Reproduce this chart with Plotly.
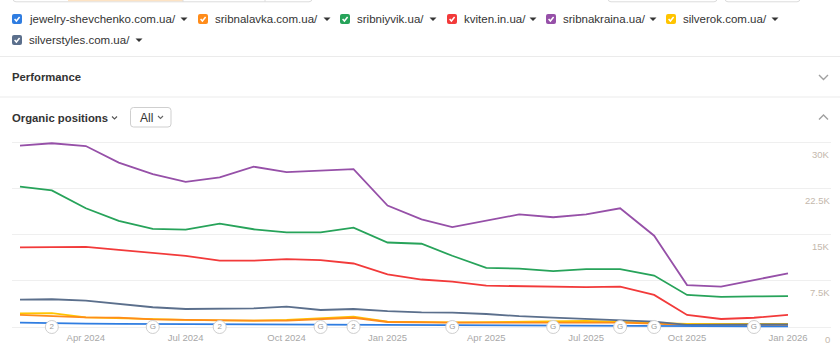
import pandas as pd
import plotly.graph_objects as go

# ---------------- data ----------------
months = pd.date_range("2024-02-01", "2026-01-01", freq="MS")

purple_sribnakraina = [29400, 29800, 29350, 26650, 24800, 23550, 24250, 26000, 25100, 25350, 25600, 19700,
                       17450, 16200, 17250, 18250, 17800, 18250, 19250, 14800, 6800, 6550, 7600, 8700]
green_sribniyvik = [22750, 22150, 19250, 17200, 15900, 15800, 16750, 15850, 15350, 15350, 16100, 13700,
                    13500, 11550, 9600, 9450, 9050, 9400, 9400, 8350, 5200, 4900, 4950, 5000]
red_kviten = [12900, 13000, 13000, 12500, 12050, 11550, 10750, 10750, 11000, 10850, 10300, 8550,
              7700, 7350, 6700, 6600, 6500, 6450, 6550, 5200, 1950, 1300, 1500, 1950]
slate_silverstyles = [4450, 4500, 4270, 3730, 3200, 2920, 3030, 3030, 3300, 2760, 2920, 2570,
                      2360, 2330, 2110, 1750, 1510, 1300, 1140, 860, 350, 400, 400, 420]
yellow_silverok = [2220, 2240, 1570, 1400, 1240, 1140, 1060, 1030, 1140, 1410, 1680, 860,
                   760, 760, 800, 820, 830, 970, 810, 590, 490, 490, 490, 490]
orange_sribnalavka = [1950, 1730, 1570, 1510, 1240, 1140, 1030, 1030, 1030, 1240, 1500, 810,
                      700, 700, 700, 700, 700, 700, 700, 560, 320, 300, 300, 300]
blue_jewelry = [700, 590, 540, 510, 490, 470, 450, 440, 440, 440, 440, 430,
                420, 400, 380, 350, 320, 210, 200, 200, 170, 150, 120, 100]

legend_names = ["jewelry-shevchenko.com.ua/", "sribnalavka.com.ua/", "sribniyvik.ua/", "kviten.in.ua/",
                "sribnakraina.ua/", "silverok.com.ua/", "silverstyles.com.ua/"]
legend_colors = ["#2f7de1", "#ff8c1a", "#27a35a", "#f23a3a", "#9650a8", "#ffc400", "#5b6f8c"]

y_tickvals = [0, 7500, 15000, 22500, 30000]
y_ticktext = ["0", "7.5K", "15K", "22.5K", "30K"]

x_tickvals = ["2024-04-01", "2024-07-01", "2024-10-01", "2025-01-01",
              "2025-04-01", "2025-07-01", "2025-10-01", "2026-01-01"]
x_ticktext = ["Apr 2024", "Jul 2024", "Oct 2024", "Jan 2025",
              "Apr 2025", "Jul 2025", "Oct 2025", "Jan 2026"]

event_dates = ["2024-03-01", "2024-06-01", "2024-08-01", "2024-11-01", "2024-12-01",
               "2025-03-01", "2025-06-01", "2025-08-01", "2025-09-01", "2025-12-01"]
event_labels = ["2", "G", "2", "G", "2", "G", "G", "G", "G", "G"]

# ---------------- helpers ----------------
W, H = 840, 354


def px(x):
    return x / W


def py(y):
    return 1 - y / H


def rrect_path(x0, y0, x1, y1, r):
    X0, X1 = px(x0), px(x1)
    Y0, Y1 = py(y0), py(y1)
    rx, ry = r / W, r / H
    return (f"M{X0+rx},{Y0} L{X1-rx},{Y0} Q{X1},{Y0} {X1},{Y0-ry} L{X1},{Y1+ry} "
            f"Q{X1},{Y1} {X1-rx},{Y1} L{X0+rx},{Y1} Q{X0},{Y1} {X0},{Y1+ry} "
            f"L{X0},{Y0-ry} Q{X0},{Y0} {X0+rx},{Y0} Z")


def poly_path(pts, close=False):
    s = "M" + " L".join(f"{px(a)},{py(b)}" for a, b in pts)
    return s + (" Z" if close else "")


def pshape(path, **kw):
    d = dict(type="path", xref="paper", yref="paper", path=path)
    d.update(kw)
    return d


fig = go.Figure()

series = [
    (yellow_silverok, legend_colors[5]),
    (orange_sribnalavka, legend_colors[1]),
    (slate_silverstyles, legend_colors[6]),
    (red_kviten, legend_colors[3]),
    (green_sribniyvik, legend_colors[2]),
    (purple_sribnakraina, legend_colors[4]),
    (blue_jewelry, legend_colors[0]),
]
for vals, col in series:
    fig.add_trace(go.Scatter(x=months, y=vals, mode="lines",
                             line=dict(color=col, width=1.8), hoverinfo="skip"))

fig.add_trace(go.Scatter(
    x=pd.to_datetime(event_dates), y=[0] * len(event_dates), mode="markers+text",
    text=event_labels, textposition="middle center",
    textfont=dict(size=8, color="#9a9a9a", family="Liberation Sans, Arial, sans-serif"),
    marker=dict(size=13, color="white", line=dict(color="#cfcfcf", width=1)),
    cliponaxis=False, hoverinfo="skip"))

# x range so that Feb 2024 sits at px 20 and Jan 2026 at px 788, plot area 12..831
t0, t1 = pd.Timestamp("2024-02-01"), pd.Timestamp("2026-01-01")
ppd = (788 - 20) / (t1 - t0).days
x_start = t0 - pd.Timedelta(days=(20 - 12) / ppd)
x_end = t1 + pd.Timedelta(days=(831 - 788) / ppd)

# y: 0 at px 327, 30K at px 142, plot area 136..330
upp = 30000 / (327 - 142)
y_lo = -(330 - 327) * upp
y_hi = (327 - 136) * upp

shapes = []
annotations = []

# top cut-off buttons
shapes.append(pshape(rrect_path(13, -10, 312, 1.8, 3), line=dict(color="#dcdcdc", width=1), fillcolor="white"))
shapes.append(dict(type="rect", xref="paper", yref="paper", x0=px(68), x1=px(183), y0=py(1.3), y1=py(-2),
                   fillcolor="#fde3c4", line=dict(width=0)))
for xv in [183, 265]:
    shapes.append(dict(type="line", xref="paper", yref="paper", x0=px(xv), x1=px(xv), y0=py(1.8), y1=py(-2),
                       line=dict(color="#dcdcdc", width=1)))
for a, b in [(608, 717), (725, 800)]:
    shapes.append(pshape(rrect_path(a, -10, b, 1.8, 3), line=dict(color="#dcdcdc", width=1), fillcolor="white"))

# legend
box_x = [12, 198, 340, 447, 546, 666, 12]
row_y = [19, 19, 19, 19, 19, 19, 40]
arrow_x = [184, 327, 433, 533, 653, 775, 139]
for name, col, bx, ry, ax in zip(legend_names, legend_colors, box_x, row_y, arrow_x):
    shapes.append(pshape(rrect_path(bx, ry - 5, bx + 10, ry + 5, 2), fillcolor=col, line=dict(width=0)))
    shapes.append(pshape(poly_path([(bx + 2.6, ry), (bx + 4.4, ry + 2), (bx + 7.6, ry - 2)]),
                         line=dict(color="white", width=1.5)))
    annotations.append(dict(text=name, x=px(bx + 14.5), y=py(ry - 0.5), xref="paper", yref="paper",
                            xanchor="left", yanchor="middle", showarrow=False,
                            font=dict(size=11.5, color="#333333")))
    shapes.append(pshape(poly_path([(ax - 3.5, ry - 1.5), (ax + 3.5, ry - 1.5), (ax, ry + 2)], True),
                         fillcolor="#333333", line=dict(width=0)))

# separators
for yv in [56.5, 97]:
    shapes.append(dict(type="line", xref="paper", yref="paper", x0=0, x1=1, y0=py(yv), y1=py(yv),
                       line=dict(color="#ebebeb", width=1)))

annotations.append(dict(text="<b>Performance</b>", x=px(10), y=py(77), xref="paper", yref="paper",
                        xanchor="left", yanchor="middle", showarrow=False, font=dict(size=11.3, color="#333333")))
annotations.append(dict(text="<b>Organic positions</b>", x=px(10), y=py(118), xref="paper", yref="paper",
                        xanchor="left", yanchor="middle", showarrow=False, font=dict(size=11.3, color="#333333")))
# small chevron after "Organic positions"
shapes.append(pshape(poly_path([(112, 116.5), (114.5, 119), (117, 116.5)]), line=dict(color="#555555", width=1.1)))
# "All" box
shapes.append(pshape(rrect_path(130.5, 107.5, 171, 127, 3), line=dict(color="#cfcfcf", width=1), fillcolor="white"))
annotations.append(dict(text="All", x=px(138), y=py(117.5), xref="paper", yref="paper",
                        xanchor="left", yanchor="middle", showarrow=False, font=dict(size=12, color="#333333")))
shapes.append(pshape(poly_path([(158, 116), (160.5, 118.5), (163, 116)]), line=dict(color="#666666", width=1.1)))
# right chevrons
shapes.append(pshape(poly_path([(819, 75), (823.5, 79.5), (828, 75)]), line=dict(color="#a0a0a0", width=1.4)))
shapes.append(pshape(poly_path([(819, 119.5), (823.5, 115), (828, 119.5)]), line=dict(color="#a0a0a0", width=1.4)))

# y tick labels (below their gridlines, right aligned)
for v, t in zip(y_tickvals, y_ticktext):
    annotations.append(dict(text=t, x=px(832), y=v, xref="paper", yref="y", xanchor="right",
                            yanchor="middle", yshift=-12, showarrow=False,
                            font=dict(size=9.5, color="#c4b8ac")))

fig.update_layout(
    width=W, height=H, margin=dict(l=0, r=0, t=0, b=0),
    paper_bgcolor="white", plot_bgcolor="white", showlegend=False,
    font=dict(family="Liberation Sans, Arial, sans-serif"),
    xaxis=dict(type="date", range=[x_start, x_end], domain=[px(12), px(831)],
               tickvals=pd.to_datetime(x_tickvals), ticktext=x_ticktext, showgrid=False,
               zeroline=False, showline=False, ticks="", tickfont=dict(size=9.5, color="#a8a8a8"),
               fixedrange=True),
    yaxis=dict(range=[y_lo, y_hi], domain=[py(330), py(136)], tickvals=y_tickvals,
               showticklabels=False, showgrid=True, gridcolor="#efefef", gridwidth=1,
               zeroline=False, showline=False, fixedrange=True),
    shapes=shapes, annotations=annotations,
)

fig.write_html("out.html")
